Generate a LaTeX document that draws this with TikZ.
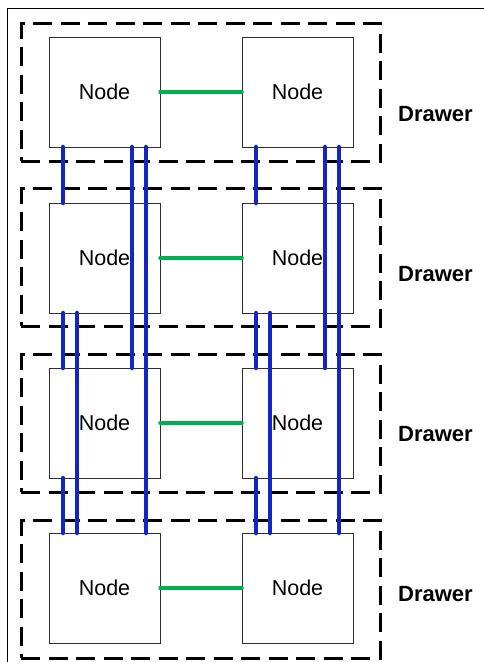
\documentclass[tikz,border=0pt]{standalone}
\usepackage{fontspec}
\setmainfont{Liberation Sans}
\definecolor{linkblue}{RGB}{18,38,200}
\definecolor{linkgreen}{RGB}{0,176,80}
\definecolor{boxgray}{RGB}{48,48,48}
\tikzset{
  nodebox/.style={draw=boxgray, line width=1pt, fill=white, minimum width=111pt, minimum height=110pt, inner sep=0pt, outer sep=0pt, font=\fontsize{21.5}{24}\selectfont},
  drawerbox/.style={draw=black, line width=3pt, dash pattern=on 19pt off 8.5pt, minimum width=359pt, minimum height=138pt, inner sep=0pt, outer sep=0pt},
  drawerlabel/.style={font=\fontsize{22}{26}\selectfont\bfseries, inner sep=0pt},
  bluelink/.style={draw=linkblue, line width=4.5pt, line cap=round},
  greenlink/.style={draw=linkgreen, line width=3.5pt, line cap=round},
  frameline/.style={draw=black, line width=1pt}
}
\begin{document}
\begin{tikzpicture}[x=1pt,y=-1pt]
\useasboundingbox (0,0) rectangle (484,662);
\coordinate (fb) at (7,662);
\coordinate (fc) at (7,8);
\coordinate (fr) at (484,8);
\draw[frameline] (fb) -- (fc) -- (fr);
% drawers
\foreach \i/\y/\ly in {1/92/114.5, 2/257/274.3, 3/423/434.3, 4/589/594.3} {
  \node[drawerbox] (d\i) at (200.5,\y) {};
  \node[drawerlabel] (l\i) at (435.5,\ly) {Drawer};
}
% nodes
\foreach \i/\y in {1/92, 2/258, 3/423, 4/588} {
  \node[nodebox] (n\i L) at (104.5,\y) {Node};
  \node[nodebox] (n\i R) at (297.5,\y) {Node};
  \draw[greenlink] (n\i L) -- (n\i R);
}
% blue links
\foreach \c in {L,R} {
  \draw[bluelink] ([xshift=14pt]n1\c.south west) -- ([xshift=14pt]n2\c.north west);
  \draw[bluelink] ([xshift=14pt]n2\c.south west) -- ([xshift=14pt]n3\c.north west);
  \draw[bluelink] ([xshift=14pt]n3\c.south west) -- ([xshift=14pt]n4\c.north west);
  \draw[bluelink] ([xshift=28pt]n2\c.south west) -- ([xshift=28pt]n4\c.north west);
  \draw[bluelink] ([xshift=83pt]n1\c.south west) -- ([xshift=83pt]n3\c.north west);
  \draw[bluelink] ([xshift=97pt]n1\c.south west) -- ([xshift=97pt]n4\c.north west);
}
\end{tikzpicture}
\end{document}
